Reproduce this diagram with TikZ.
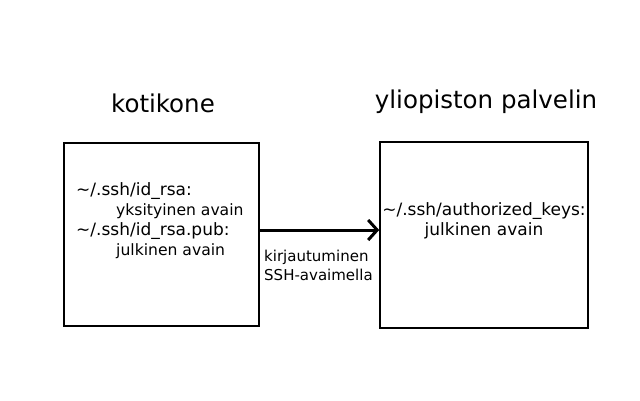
\documentclass[tikz,border=0pt]{standalone}
\usepackage{fontspec}
\setmainfont{DejaVu Sans}
\usetikzlibrary{arrows.meta}
\begin{document}
\begin{tikzpicture}[x=1pt,y=-1pt,
  box/.style={draw, line width=1.6pt, minimum width=#1, inner sep=0pt},
  title/.style={font=\fontsize{24.5}{29}\selectfont, inner sep=0pt},
  body/.style={font=\fontsize{17}{20}\selectfont, inner sep=0pt},
  small/.style={font=\fontsize{15}{19}\selectfont, inner sep=0pt, align=left},
  conn/.style={line width=3pt, -{Straight Barb[length=9pt, width=20pt, line width=3pt]}}]
\useasboundingbox (0,0) rectangle (640,400);
\node[box=195pt, minimum height=183pt] (home) at (161.5,234.5) {};
\node[box=208pt, minimum height=186pt] (server) at (484,235) {};
\node[title] (t1) at (163,103) {kotikone};
\node[title] (t2) at (486,102) {yliopiston palvelin};
\node[body, align=left, anchor=west] (ht) at (76,221)
  {\textasciitilde/.ssh/id\_rsa:\\
   \hspace*{40pt}{\fontsize{15.6}{20}\selectfont yksityinen avain}\\
   \textasciitilde/.ssh/id\_rsa.pub:\\
   \hspace*{40pt}{\fontsize{15.6}{20}\selectfont julkinen avain}};
\node[body, align=center] (st) at (484,221)
  {\textasciitilde/.ssh/authorized\_keys:\\julkinen avain};
\draw[conn] (home.east |- 0,230) -- (server.west |- 0,230);
\node[small, anchor=north west] (lbl) at (264,250) {kirjautuminen\\SSH-avaimella};
\end{tikzpicture}
\end{document}
